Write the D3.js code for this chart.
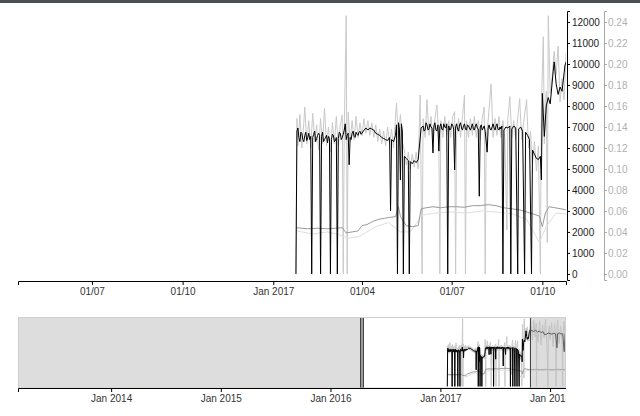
<!DOCTYPE html>
<html>
<head>
<meta charset="utf-8">
<script src="https://cdn.jsdelivr.net/npm/d3@7"></script>
<style>
  body { margin: 0; background: #fff; }
  svg { display: block; }
</style>
</head>
<body>
<svg id="chart" width="640" height="416"></svg>
<script>
const parseDate = d3.timeParse('%Y-%m-%d')

// whole period shown in the small chart, and the brushed window shown on top
const contextSpan = ['2013-02-25', '2018-02-23']
const brushSpan = ['2016-04-17', '2017-10-25']

const leftTicks = [0, 1000, 2000, 3000, 4000, 5000, 6000, 7000, 8000, 9000, 10000, 11000, 12000]
const rightTicks = [0, 0.02, 0.04, 0.06, 0.08, 0.10, 0.12, 0.14, 0.16, 0.18, 0.20, 0.22, 0.24]
const leftDomain = [-290, 12524]
const rightDomain = [-0.0058, 0.25048]

// main series (left axis, black)
const price = [
  ['2017-01-24', 0], ['2017-01-25', 6800], ['2017-01-26', 6950], ['2017-01-27', 6500], ['2017-01-28', 6300],
  ['2017-01-29', 6750], ['2017-01-30', 6700], ['2017-01-31', 6400],
  ['2017-02-01', 6300], ['2017-02-02', 6600], ['2017-02-03', 6750], ['2017-02-04', 6350], ['2017-02-05', 6500],
  ['2017-02-06', 6700], ['2017-02-07', 6400], ['2017-02-08', 6550], ['2017-02-09', 0], ['2017-02-10', 6500],
  ['2017-02-11', 6650], ['2017-02-12', 6800], ['2017-02-13', 6300], ['2017-02-14', 6450], ['2017-02-15', 6600],
  ['2017-02-16', 6700], ['2017-02-17', 6600], ['2017-02-18', 0], ['2017-02-19', 6550], ['2017-02-20', 6750],
  ['2017-02-21', 6300], ['2017-02-22', 6400], ['2017-02-23', 6500], ['2017-02-24', 6600], ['2017-02-25', 6250],
  ['2017-02-26', 6550], ['2017-02-27', 6450], ['2017-02-28', 0],
  ['2017-03-01', 6400], ['2017-03-02', 6650], ['2017-03-03', 6600], ['2017-03-04', 6300], ['2017-03-05', 6350],
  ['2017-03-06', 6500], ['2017-03-07', 0], ['2017-03-08', 6450], ['2017-03-09', 6750], ['2017-03-10', 6700],
  ['2017-03-11', 6400], ['2017-03-12', 6500], ['2017-03-13', 6650], ['2017-03-14', 6850], ['2017-03-15', 7150],
  ['2017-03-16', 6400], ['2017-03-17', 6600], ['2017-03-18', 6700], ['2017-03-19', 5200], ['2017-03-20', 6500],
  ['2017-03-21', 6400], ['2017-03-22', 6700], ['2017-03-23', 6800], ['2017-03-24', 6550], ['2017-03-25', 6500],
  ['2017-03-26', 6750], ['2017-03-27', 6650], ['2017-03-28', 6600], ['2017-03-29', 6750], ['2017-03-30', 6800],
  ['2017-03-31', 6650],
  ['2017-04-01', 6700], ['2017-04-03', 6850], ['2017-04-05', 6950], ['2017-04-07', 6850], ['2017-04-09', 6950],
  ['2017-04-11', 6900], ['2017-04-13', 6850], ['2017-04-15', 6700], ['2017-04-17', 6650], ['2017-04-19', 6600],
  ['2017-04-21', 6500], ['2017-04-23', 6450], ['2017-04-25', 6400], ['2017-04-27', 6350], ['2017-04-29', 6500],
  ['2017-04-30', 3000],
  ['2017-05-01', 6400], ['2017-05-03', 6300], ['2017-05-05', 6600], ['2017-05-06', 7100], ['2017-05-07', 0],
  ['2017-05-08', 7200], ['2017-05-09', 6900], ['2017-05-10', 4470], ['2017-05-11', 7150], ['2017-05-12', 6800],
  ['2017-05-13', 0], ['2017-05-14', 5600], ['2017-05-16', 5500], ['2017-05-18', 5400], ['2017-05-19', 0],
  ['2017-05-20', 5350], ['2017-05-22', 5250], ['2017-05-24', 5400], ['2017-05-26', 5300], ['2017-05-28', 5450],
  ['2017-05-31', 6950],
  ['2017-06-02', 7050], ['2017-06-03', 6800], ['2017-06-04', 6850], ['2017-06-05', 7200], ['2017-06-06', 7100],
  ['2017-06-07', 6850], ['2017-06-08', 6900], ['2017-06-09', 7150], ['2017-06-10', 7000], ['2017-06-11', 6950],
  ['2017-06-12', 5760], ['2017-06-13', 7050], ['2017-06-14', 7200], ['2017-06-15', 6850], ['2017-06-16', 6800],
  ['2017-06-17', 7100], ['2017-06-18', 5850], ['2017-06-19', 7000], ['2017-06-20', 7150], ['2017-06-21', 6900],
  ['2017-06-22', 6850], ['2017-06-23', 7150], ['2017-06-24', 7000], ['2017-06-25', 6950], ['2017-06-26', 7150],
  ['2017-06-27', 0], ['2017-06-28', 7050], ['2017-06-29', 6850], ['2017-06-30', 6900],
  ['2017-07-01', 7150], ['2017-07-02', 7100], ['2017-07-03', 6900], ['2017-07-04', 4950], ['2017-07-05', 7000],
  ['2017-07-06', 7150], ['2017-07-07', 6900], ['2017-07-08', 6800], ['2017-07-09', 7100], ['2017-07-10', 7200],
  ['2017-07-11', 6950], ['2017-07-12', 6850], ['2017-07-13', 7050], ['2017-07-14', 7150], ['2017-07-15', 6900],
  ['2017-07-16', 6850], ['2017-07-17', 7100], ['2017-07-18', 7050], ['2017-07-19', 6950], ['2017-07-20', 6850],
  ['2017-07-21', 7000], ['2017-07-22', 7150], ['2017-07-23', 6900], ['2017-07-24', 6850], ['2017-07-25', 7050],
  ['2017-07-26', 7150], ['2017-07-27', 6950], ['2017-07-28', 6900], ['2017-07-29', 3700], ['2017-07-30', 7000],
  ['2017-07-31', 7100],
  ['2017-08-01', 6850], ['2017-08-02', 6950], ['2017-08-03', 7050], ['2017-08-04', 6800], ['2017-08-06', 5800],
  ['2017-08-07', 6950], ['2017-08-08', 7100], ['2017-08-09', 6900], ['2017-08-10', 6850], ['2017-08-11', 7000],
  ['2017-08-12', 7150], ['2017-08-13', 6950], ['2017-08-14', 6850], ['2017-08-15', 7050], ['2017-08-16', 7150],
  ['2017-08-17', 6900], ['2017-08-18', 6850], ['2017-08-19', 7000], ['2017-08-20', 6900], ['2017-08-21', 7050],
  ['2017-08-22', 0], ['2017-08-23', 6850], ['2017-08-25', 7000], ['2017-08-27', 6950], ['2017-08-29', 7050],
  ['2017-08-30', 0], ['2017-08-31', 6900],
  ['2017-09-02', 7050], ['2017-09-04', 6950], ['2017-09-06', 0], ['2017-09-07', 6900], ['2017-09-09', 7000],
  ['2017-09-11', 6800], ['2017-09-13', 0], ['2017-09-14', 6750], ['2017-09-16', 6600], ['2017-09-18', 6400],
  ['2017-09-20', 0], ['2017-09-21', 5900], ['2017-09-23', 5700], ['2017-09-25', 5500], ['2017-09-27', 5450],
  ['2017-09-29', 5600], ['2017-09-30', 4480],
  ['2017-10-01', 8600], ['2017-10-03', 6550], ['2017-10-05', 8000], ['2017-10-07', 8400], ['2017-10-09', 8100],
  ['2017-10-12', 9650], ['2017-10-13', 10100], ['2017-10-15', 9050], ['2017-10-17', 8550], ['2017-10-19', 8900],
  ['2017-10-21', 8700], ['2017-10-24', 9950], ['2017-10-27', 10300],
  ['2017-11-02', 10100], ['2017-11-08', 10000], ['2017-11-14', 10200], ['2017-11-20', 9900], ['2017-11-26', 10050],
  ['2017-12-02', 9800], ['2017-12-08', 9950], ['2017-12-14', 9400], ['2017-12-20', 9500], ['2017-12-26', 9700],
  ['2018-01-01', 9600], ['2018-01-07', 9500], ['2018-01-13', 9650], ['2018-01-19', 9550], ['2018-01-24', 7000],
  ['2018-01-26', 9600], ['2018-02-01', 9700], ['2018-02-07', 9500], ['2018-02-12', 9600], ['2018-02-17', 6300],
  ['2018-02-20', 9550]
]

// raw, noisier readings of the same series (left axis, light grey)
const priceSpread = [
  ['2017-01-24', 0], ['2017-01-25', 7400], ['2017-01-26', 6100], ['2017-01-28', 7600], ['2017-01-30', 6000],
  ['2017-02-01', 7200], ['2017-02-02', 7950], ['2017-02-04', 6200], ['2017-02-06', 7300], ['2017-02-08', 6000],
  ['2017-02-10', 7650], ['2017-02-12', 6300], ['2017-02-14', 7100], ['2017-02-16', 5900], ['2017-02-18', 7400],
  ['2017-02-20', 6200], ['2017-02-22', 7900], ['2017-02-24', 6100], ['2017-02-26', 7000], ['2017-02-28', 5800],
  ['2017-03-02', 7200], ['2017-03-04', 6200], ['2017-03-06', 7500], ['2017-03-08', 6100], ['2017-03-10', 7100],
  ['2017-03-12', 7570], ['2017-03-13', 0], ['2017-03-14', 6800], ['2017-03-16', 12300], ['2017-03-17', 0],
  ['2017-03-18', 7700], ['2017-03-20', 6300], ['2017-03-22', 7300], ['2017-03-24', 6400], ['2017-03-26', 7500],
  ['2017-03-28', 6500], ['2017-03-30', 7200], ['2017-04-01', 6600], ['2017-04-03', 7400], ['2017-04-05', 6700],
  ['2017-04-07', 7300], ['2017-04-09', 6600], ['2017-04-11', 7200], ['2017-04-13', 6500], ['2017-04-15', 7100],
  ['2017-04-17', 6300], ['2017-04-19', 6900], ['2017-04-21', 6200], ['2017-04-23', 6800], ['2017-04-25', 6100],
  ['2017-04-27', 7000], ['2017-04-29', 6200], ['2017-05-01', 6900], ['2017-05-03', 6000], ['2017-05-06', 8140],
  ['2017-05-08', 6500], ['2017-05-10', 7600], ['2017-05-12', 6300], ['2017-05-14', 5900], ['2017-05-16', 5200],
  ['2017-05-18', 5800], ['2017-05-20', 5000], ['2017-05-22', 5700], ['2017-05-24', 5100], ['2017-05-26', 5800],
  ['2017-05-28', 5000], ['2017-05-30', 8520], ['2017-06-01', 0], ['2017-06-02', 7400], ['2017-06-04', 6500],
  ['2017-06-06', 8300], ['2017-06-08', 6600], ['2017-06-10', 7500], ['2017-06-12', 6500], ['2017-06-14', 7400],
  ['2017-06-16', 8050], ['2017-06-18', 6600], ['2017-06-19', 0], ['2017-06-20', 7300], ['2017-06-22', 6500],
  ['2017-06-24', 7500], ['2017-06-26', 6600], ['2017-06-28', 7300], ['2017-06-30', 6500], ['2017-07-02', 7500],
  ['2017-07-04', 7730], ['2017-07-05', 0], ['2017-07-06', 6600], ['2017-07-08', 7400], ['2017-07-10', 6500],
  ['2017-07-12', 7500], ['2017-07-14', 8520], ['2017-07-15', 0], ['2017-07-16', 7300], ['2017-07-18', 6500],
  ['2017-07-20', 7400], ['2017-07-22', 6600], ['2017-07-24', 7500], ['2017-07-26', 6500], ['2017-07-28', 7300],
  ['2017-07-30', 6400], ['2017-08-01', 7400], ['2017-08-03', 7950], ['2017-08-04', 0], ['2017-08-05', 6500],
  ['2017-08-07', 7300], ['2017-08-10', 9050], ['2017-08-12', 6500], ['2017-08-14', 7400], ['2017-08-16', 6600],
  ['2017-08-18', 7500], ['2017-08-20', 6500], ['2017-08-22', 7300], ['2017-08-24', 6400], ['2017-08-26', 2100],
  ['2017-08-27', 7400], ['2017-08-29', 8450], ['2017-08-31', 6500], ['2017-09-02', 7300], ['2017-09-04', 6400],
  ['2017-09-06', 7400], ['2017-09-08', 8350], ['2017-09-10', 6400], ['2017-09-12', 7200], ['2017-09-15', 8300],
  ['2017-09-17', 6000], ['2017-09-19', 6800], ['2017-09-21', 5200], ['2017-09-23', 6300], ['2017-09-25', 4900],
  ['2017-09-27', 6100], ['2017-09-29', 0], ['2017-09-30', 8000], ['2017-10-02', 11300], ['2017-10-03', 6200],
  ['2017-10-05', 8700], ['2017-10-06', 1500], ['2017-10-07', 12300], ['2017-10-09', 8600], ['2017-10-11', 9400],
  ['2017-10-13', 10600], ['2017-10-15', 9500], ['2017-10-17', 10850], ['2017-10-19', 8200], ['2017-10-21', 9300],
  ['2017-10-23', 8300], ['2017-10-25', 10400], ['2017-10-29', 11800], ['2017-11-03', 8500], ['2017-11-08', 12000],
  ['2017-11-12', 9000], ['2017-11-16', 11500], ['2017-11-17', 0], ['2017-11-18', 9800], ['2017-11-22', 8000],
  ['2017-11-27', 11900], ['2017-12-02', 7500], ['2017-12-07', 11200], ['2017-12-12', 8800], ['2017-12-17', 12200],
  ['2017-12-22', 7000], ['2017-12-25', 0], ['2017-12-26', 9500], ['2017-12-29', 11000], ['2018-01-01', 8500],
  ['2018-01-06', 11600], ['2018-01-11', 7200], ['2018-01-16', 11400], ['2018-01-20', 8600], ['2018-01-21', 0],
  ['2018-01-22', 9000], ['2018-01-26', 12100], ['2018-01-31', 7800], ['2018-02-05', 11000], ['2018-02-10', 8200],
  ['2018-02-12', 0], ['2018-02-13', 9400], ['2018-02-16', 11800], ['2018-02-20', 9000]
]

// ratio series (right axis, mid grey)
const ratio = [
  ['2017-01-25', 0.044], ['2017-02-05', 0.043], ['2017-02-15', 0.0435], ['2017-02-25', 0.043], ['2017-03-05', 0.0435],
  ['2017-03-12', 0.044], ['2017-03-16', 0.039], ['2017-03-22', 0.040], ['2017-03-28', 0.041], ['2017-04-01', 0.046],
  ['2017-04-06', 0.047], ['2017-04-12', 0.050], ['2017-04-18', 0.052], ['2017-04-24', 0.053], ['2017-04-30', 0.054],
  ['2017-05-05', 0.0545], ['2017-05-08', 0.064], ['2017-05-10', 0.055], ['2017-05-13', 0.050], ['2017-05-16', 0.046],
  ['2017-05-22', 0.045], ['2017-05-28', 0.046], ['2017-05-31', 0.062], ['2017-06-05', 0.063], ['2017-06-12', 0.064],
  ['2017-06-20', 0.063], ['2017-06-28', 0.064], ['2017-07-06', 0.064], ['2017-07-14', 0.0635], ['2017-07-22', 0.065],
  ['2017-07-30', 0.065], ['2017-08-07', 0.066], ['2017-08-15', 0.065], ['2017-08-23', 0.063], ['2017-08-31', 0.062],
  ['2017-09-08', 0.061], ['2017-09-15', 0.059], ['2017-09-22', 0.057], ['2017-09-28', 0.055], ['2017-10-01', 0.045],
  ['2017-10-04', 0.058], ['2017-10-08', 0.064], ['2017-10-14', 0.063], ['2017-10-20', 0.062], ['2017-10-25', 0.061],
  ['2017-11-10', 0.062], ['2017-12-01', 0.061], ['2017-12-20', 0.062], ['2018-01-10', 0.061], ['2018-02-01', 0.062],
  ['2018-02-20', 0.061]
]

// raw ratio readings (right axis, very light grey)
const ratioSpread = [
  ['2017-01-25', 0.041], ['2017-02-10', 0.038], ['2017-02-25', 0.040], ['2017-03-10', 0.037], ['2017-03-18', 0.034],
  ['2017-03-30', 0.036], ['2017-04-15', 0.045], ['2017-04-28', 0.049], ['2017-05-10', 0.040], ['2017-05-20', 0.040],
  ['2017-06-01', 0.056], ['2017-06-15', 0.058], ['2017-07-01', 0.059], ['2017-07-15', 0.058], ['2017-08-01', 0.060],
  ['2017-08-15', 0.059], ['2017-09-01', 0.057], ['2017-09-15', 0.052], ['2017-09-28', 0.030], ['2017-10-05', 0.045],
  ['2017-10-15', 0.058], ['2017-10-25', 0.057], ['2017-12-01', 0.058], ['2018-01-15', 0.057], ['2018-02-20', 0.058]
]

const focusBox = { left: 18, right: 566, top: 11, bottom: 280, axisY: 281 }
const contextBox = { top: 317.5, bottom: 388 }
const fontFamily = '"Liberation Sans", Arial, sans-serif'

let svg = d3.select('#chart')

let xSc = d3.scaleTime().range([focusBox.left, focusBox.right])
let x2Sc = d3.scaleTime()
  .domain(contextSpan.map(parseDate))
  .range([focusBox.left, focusBox.right])
let yLeft = d3.scaleLinear().domain(leftDomain).range([focusBox.bottom, focusBox.top])
let yRight = d3.scaleLinear().domain(rightDomain).range([focusBox.bottom, focusBox.top])
let yLeft2 = yLeft.copy().range([contextBox.bottom, contextBox.top])
let yRight2 = yRight.copy().range([contextBox.bottom, contextBox.top])

const toRows = arr => arr.map(([d, v]) => ({ date: parseDate(d), value: v }))

// drawn back to front
const series = [
  { rows: toRows(priceSpread), side: 'left', color: '#c9c9c9' },
  { rows: toRows(ratioSpread), side: 'right', color: '#dedede' },
  { rows: toRows(ratio), side: 'right', color: '#9a9a9a' },
  { rows: toRows(price), side: 'left', color: '#000' }
]

// thin dark strip along the top edge
svg.append('rect')
  .attr('x', 0).attr('y', 0).attr('width', 640).attr('height', 3)
  .attr('fill', '#4b4f54')

let defs = svg.append('defs')
defs.append('clipPath').attr('id', 'focus-clip')
  .append('rect')
    .attr('x', focusBox.left).attr('y', 0)
    .attr('width', focusBox.right - focusBox.left).attr('height', focusBox.axisY)
defs.append('clipPath').attr('id', 'context-clip')
  .append('rect')
    .attr('x', focusBox.left).attr('y', contextBox.top)
    .attr('width', focusBox.right - focusBox.left).attr('height', contextBox.bottom - contextBox.top)
defs.append('clipPath').attr('id', 'context-axis-clip')
  .append('rect')
    .attr('x', 0).attr('y', -5).attr('width', focusBox.right).attr('height', 40)

// focus
let focusLines = svg.append('g').attr('clip-path', 'url(#focus-clip)')
let focusPaths = focusLines.selectAll('path')
  .data(series)
  .enter().append('path')
    .attr('fill', 'none')
    .attr('stroke', d => d.color)
    .attr('stroke-width', 1)

let xAxisGroup = svg.append('g').attr('transform', `translate(0, ${focusBox.axisY})`)

const monthFmt = d3.timeFormat('%d/%m')
const yearFmt = d3.timeFormat('%b %Y')
let xAxisMkr = d3.axisBottom(xSc)
  .ticks(d3.timeMonth.every(3))
  .tickFormat(d => d.getMonth() === 0 ? yearFmt(d) : monthFmt(d))
  .tickSize(4)
  .tickPadding(3)

let yLeftAxis = svg.append('g')
  .attr('transform', 'translate(567, 0)')
  .call(d3.axisRight(yLeft).tickValues(leftTicks).tickFormat(d3.format('d'))
    .tickSize(3).tickPadding(2))
yLeftAxis.selectAll('path, line').attr('stroke', '#000')
yLeftAxis.selectAll('text').attr('fill', '#222')

let yRightAxis = svg.append('g')
  .attr('transform', 'translate(604, 0)')
  .call(d3.axisRight(yRight).tickValues(rightTicks).tickFormat(d3.format('.2f'))
    .tickSize(3).tickPadding(1))
yRightAxis.selectAll('path, line').attr('stroke', '#aaa')
yRightAxis.selectAll('text').attr('fill', '#b0b0b0')

// context
let contextLines = svg.append('g').attr('clip-path', 'url(#context-clip)')
contextLines.selectAll('path')
  .data(series)
  .enter().append('path')
    .attr('fill', 'none')
    .attr('stroke', d => d.color)
    .attr('stroke-width', 1)
    .attr('d', d => {
      let yS = d.side === 'left' ? yLeft2 : yRight2
      return d3.line().x(r => x2Sc(r.date)).y(r => yS(r.value))(d.rows)
    })

let masks = svg.append('g').attr('class', 'masks')
let maskLeft = masks.append('rect').attr('fill', '#bbb').attr('fill-opacity', 0.5)
let maskRight = masks.append('rect').attr('fill', '#bbb').attr('fill-opacity', 0.5)
let handleLeft = masks.append('rect').attr('fill', '#9a9a9a').attr('stroke', '#444')
let handleRight = masks.append('line').attr('stroke', '#444')

svg.append('rect')
  .attr('x', focusBox.left + 0.5).attr('y', contextBox.top)
  .attr('width', focusBox.right - focusBox.left - 1)
  .attr('height', contextBox.bottom - contextBox.top)
  .attr('fill', 'none')
  .attr('stroke', '#cfcfcf')

let x2AxisGroup = svg.append('g')
  .attr('transform', `translate(0, ${contextBox.bottom})`)
  .attr('clip-path', 'url(#context-axis-clip)')
  .call(d3.axisBottom(x2Sc).ticks(d3.timeYear.every(1)).tickFormat(yearFmt)
    .tickSize(4).tickPadding(3))

let brush = d3.brushX()
  .extent([[focusBox.left, contextBox.top], [focusBox.right, contextBox.bottom]])
  .on('brush end', brushed)

let brushGroup = svg.append('g').attr('class', 'brush').call(brush)
brushGroup.selectAll('.overlay').attr('fill', 'none')
brushGroup.selectAll('.selection').attr('fill', 'none').attr('stroke', 'none')
brushGroup.selectAll('.handle').attr('fill', 'none')

brushGroup.call(brush.move, brushSpan.map(parseDate).map(x2Sc))

// text styling for every axis
svg.selectAll('.tick text')
  .attr('font-family', fontFamily)
  .attr('font-size', 10)
xAxisGroup.selectAll('text').attr('fill', '#333')
x2AxisGroup.selectAll('text').attr('fill', '#333')

function brushed(event) {
  let sel = event.selection || x2Sc.range()
  xSc.domain(sel.map(x2Sc.invert))

  focusPaths.attr('d', d => {
    let yS = d.side === 'left' ? yLeft : yRight
    return d3.line().x(r => xSc(r.date)).y(r => yS(r.value))(d.rows)
  })
  xAxisGroup.call(xAxisMkr)
  xAxisGroup.selectAll('text')
    .attr('fill', '#333')
    .attr('font-family', fontFamily)

  maskLeft
    .attr('x', focusBox.left).attr('y', contextBox.top)
    .attr('width', Math.max(0, sel[0] - focusBox.left))
    .attr('height', contextBox.bottom - contextBox.top)
  maskRight
    .attr('x', sel[1]).attr('y', contextBox.top)
    .attr('width', Math.max(0, focusBox.right - sel[1]))
    .attr('height', contextBox.bottom - contextBox.top)
  handleLeft
    .attr('x', Math.round(sel[0]) - 2.5).attr('y', contextBox.top)
    .attr('width', 3).attr('height', contextBox.bottom - contextBox.top)
  handleRight
    .attr('x1', Math.round(sel[1]) + 0.5).attr('x2', Math.round(sel[1]) + 0.5)
    .attr('y1', contextBox.top).attr('y2', contextBox.bottom)
}
</script>
</body>
</html>
